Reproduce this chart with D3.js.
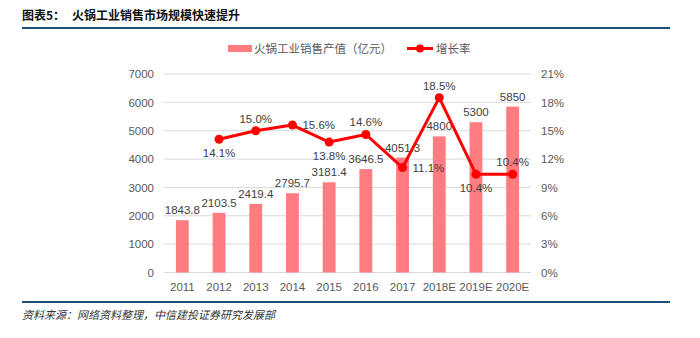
<!DOCTYPE html>
<html lang="zh">
<head>
<meta charset="utf-8">
<title>火锅工业销售市场规模快速提升</title>
<script src="https://d3js.org/d3.v7.min.js"></script>
<style>
  body { margin: 0; background: #fff; }
  svg { display: block; }
</style>
</head>
<body>
<script>
// 年份与两组数据
var years = ["2011", "2012", "2013", "2014", "2015", "2016", "2017", "2018E", "2019E", "2020E"];
var sales = [1843.8, 2103.5, 2419.4, 2795.7, 3181.4, 3646.5, 4051.3, 4800, 5300, 5850];
var growth = [null, 14.1, 15.0, 15.6, 13.8, 14.6, 11.1, 18.5, 10.4, 10.4];
// 增长率标签的摆放方向
var growthPos = [null, "below", "above", "right", "below", "above", "right", "above", "below", "above"];
var leftTicks = [0, 1000, 2000, 3000, 4000, 5000, 6000, 7000];
var rightTicks = [0, 3, 6, 9, 12, 15, 18, 21];

var W = 700, H = 338;
var plot = { l: 164, r: 531, t: 74, b: 272.5 };
var font = "'Liberation Sans', Arial, sans-serif";
var cjk = "'Noto Sans CJK SC', sans-serif";

var svg = d3.select("body").append("svg")
  .attr("width", W)
  .attr("height", H);

// 标题
svg.append("text")
  .attr("x", 22).attr("y", 20)
  .style("font-family", cjk).style("font-size", "12px").style("font-weight", "bold")
  .style("fill", "#111")
  .text("图表5：");
svg.append("text")
  .attr("x", 72).attr("y", 20)
  .style("font-family", cjk).style("font-size", "12px").style("font-weight", "bold")
  .style("fill", "#111")
  .text("火锅工业销售市场规模快速提升");

svg.append("line")
  .attr("x1", 22).attr("x2", 670).attr("y1", 28).attr("y2", 28)
  .attr("stroke", "#1f4e79").attr("stroke-width", 2);
svg.append("line")
  .attr("x1", 22).attr("x2", 670).attr("y1", 302).attr("y2", 302)
  .attr("stroke", "#1f4e79").attr("stroke-width", 2);

// 资料来源
svg.append("text")
  .attr("x", 22).attr("y", 319)
  .style("font-family", cjk).style("font-size", "11px").style("font-style", "italic")
  .style("fill", "#333")
  .text("资料来源：网络资料整理，中信建投证券研究发展部");

var x = d3.scaleBand().domain(years).range([plot.l, plot.r]).paddingInner(0.65).paddingOuter(0.325);
var y = d3.scaleLinear().domain([0, 7000]).range([plot.b, plot.t]);
var y2 = d3.scaleLinear().domain([0, 21]).range([plot.b, plot.t]);

// 网格线
svg.append("g").selectAll("line")
  .data(leftTicks)
  .join("line")
  .attr("x1", plot.l).attr("x2", plot.r)
  .attr("y1", d => y(d)).attr("y2", d => y(d))
  .attr("stroke", "#d9d9d9").attr("stroke-width", 1);

// 左轴
var yAxis = svg.append("g")
  .attr("transform", "translate(" + (plot.l - 10) + ",0)")
  .call(d3.axisLeft(y).tickValues(leftTicks).tickFormat(d3.format("d")).tickSize(0).tickPadding(0));
yAxis.select(".domain").remove();
yAxis.selectAll("text")
  .style("font-family", font).style("font-size", "11.5px").style("fill", "#595959");

// 右轴
var y2Axis = svg.append("g")
  .attr("transform", "translate(" + (plot.r + 10) + ",0)")
  .call(d3.axisRight(y2).tickValues(rightTicks).tickFormat(d => d + "%").tickSize(0).tickPadding(0));
y2Axis.select(".domain").remove();
y2Axis.selectAll("text")
  .style("font-family", font).style("font-size", "11.5px").style("fill", "#595959");

// x 轴
var xAxis = svg.append("g")
  .attr("transform", "translate(0," + plot.b + ")")
  .call(d3.axisBottom(x).tickSize(0).tickPadding(10));
xAxis.select(".domain").remove();
xAxis.selectAll("text")
  .style("font-family", font).style("font-size", "11.5px").style("fill", "#595959");

// 柱子
svg.append("g").selectAll("rect")
  .data(sales)
  .join("rect")
  .attr("x", (d, i) => x(years[i]))
  .attr("width", x.bandwidth())
  .attr("y", d => y(d))
  .attr("height", d => y(0) - y(d))
  .attr("fill", "#ff7c80");

svg.append("g").selectAll("text")
  .data(sales)
  .join("text")
  .attr("x", (d, i) => x(years[i]) + x.bandwidth() / 2)
  .attr("y", d => y(d) - 6)
  .attr("text-anchor", "middle")
  .style("font-family", font).style("font-size", "11.5px").style("fill", "#404040")
  .text(d => d);

// 折线
var pts = growth.map((g, i) => ({ yr: years[i], g: g, pos: growthPos[i] })).filter(d => d.g != null);
var cx = d => x(d.yr) + x.bandwidth() / 2;

svg.append("path")
  .datum(pts)
  .attr("fill", "none")
  .attr("stroke", "#ff0000")
  .attr("stroke-width", 3)
  .attr("stroke-linejoin", "round")
  .attr("d", d3.line().x(cx).y(d => y2(d.g)));

svg.append("g").selectAll("circle")
  .data(pts)
  .join("circle")
  .attr("cx", cx)
  .attr("cy", d => y2(d.g))
  .attr("r", 4.5)
  .attr("fill", "#ff0000");

svg.append("g").selectAll("text")
  .data(pts)
  .join("text")
  .attr("x", d => d.pos === "right" ? cx(d) + 10 : cx(d))
  .attr("y", d => {
    var py = y2(d.g);
    if (d.pos === "above") return py - 8;
    if (d.pos === "below") return py + 18;
    return py + 4;
  })
  .attr("text-anchor", d => d.pos === "right" ? "start" : "middle")
  .style("font-family", font).style("font-size", "11.5px").style("fill", "#404040")
  .text(d => d.g.toFixed(1) + "%");

// 图例
var lg = svg.append("g");
lg.append("rect")
  .attr("x", 228).attr("y", 45).attr("width", 24).attr("height", 7)
  .attr("fill", "#ff7c80");
lg.append("text")
  .attr("x", 254).attr("y", 53)
  .style("font-family", cjk).style("font-size", "11.5px").style("fill", "#595959")
  .text("火锅工业销售产值（亿元）");
lg.append("line")
  .attr("x1", 407).attr("x2", 433).attr("y1", 48.5).attr("y2", 48.5)
  .attr("stroke", "#ff0000").attr("stroke-width", 3);
lg.append("circle")
  .attr("cx", 420).attr("cy", 48.5).attr("r", 4)
  .attr("fill", "#ff0000");
lg.append("text")
  .attr("x", 436).attr("y", 53)
  .style("font-family", cjk).style("font-size", "11.5px").style("fill", "#595959")
  .text("增长率");
</script>
</body>
</html>
